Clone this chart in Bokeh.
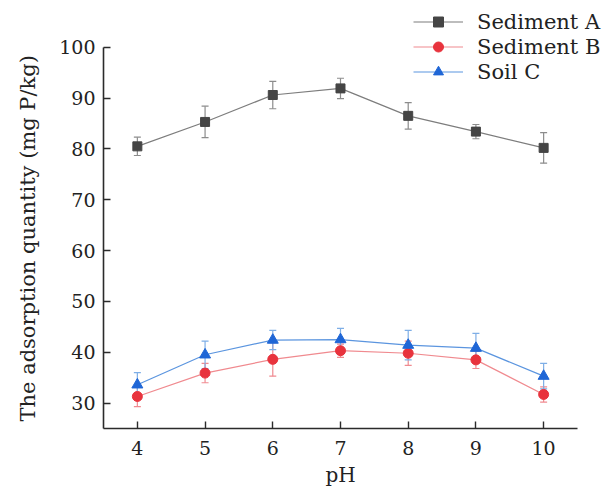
from bokeh.plotting import figure
from bokeh.models import (ColumnDataSource, Whisker, TeeHead, FixedTicker, Range1d,
                          Legend, LegendItem, Title)
from bokeh.embed import file_html
from bokeh.resources import INLINE

# ---- data ----
ph = [4, 5, 6, 7, 8, 9, 10]
sed_a = [80.5, 85.3, 90.6, 91.9, 86.5, 83.4, 80.2]
sed_a_err = [1.8, 3.1, 2.7, 2.0, 2.6, 1.4, 3.0]
sed_b = [31.3, 35.9, 38.6, 40.3, 39.8, 38.5, 31.7]
sed_b_err = [2.0, 1.9, 3.3, 1.3, 2.4, 1.7, 1.5]
soil_c = [33.6, 39.5, 42.4, 42.5, 41.4, 40.8, 35.3]
soil_c_err = [2.4, 2.7, 1.9, 2.2, 2.9, 2.9, 2.5]
y_ticks = [30, 40, 50, 60, 70, 80, 90, 100]
x_ticks = [4, 5, 6, 7, 8, 9, 10]
series_names = ["Sediment A", "Sediment B", "Soil C"]
x_title = "pH"
y_title = "The adsorption quantity (mg P/kg)"

FONT = "DejaVu Serif"
TXT = "#222222"

p = figure(width=608, height=492, output_backend="svg", toolbar_location=None,
           x_range=Range1d(3.5, 10.958), y_range=Range1d(25, 109.19),
           min_border_left=103, min_border_right=0, min_border_top=0,
           min_border_bottom=64)
p.outline_line_color = None
p.xgrid.visible = False
p.ygrid.visible = False
p.background_fill_color = "white"

for ax in (p.xaxis[0], p.yaxis[0]):
    ax.axis_line_color = "#2b2b2b"
    ax.axis_line_width = 1.6
    ax.major_tick_line_color = "#2b2b2b"
    ax.major_tick_line_width = 1.4
    ax.major_tick_in = 7
    ax.major_tick_out = 0
    ax.minor_tick_line_color = None
    ax.major_label_text_font = FONT
    ax.major_label_text_font_size = "19px"
    ax.major_label_text_color = TXT

p.xaxis.ticker = FixedTicker(ticks=x_ticks)
p.yaxis.ticker = FixedTicker(ticks=y_ticks)
p.yaxis.bounds = (25, 100)
p.xaxis.bounds = (3.5, 10.5)
p.xaxis.major_label_standoff = 12
p.yaxis.major_label_standoff = 8

xt = Title(text=x_title, align="left", offset=222, standoff=7,
           text_font=FONT, text_font_size="20px", text_font_style="normal",
           text_color=TXT)
p.add_layout(xt, "below")

yt = Title(text=y_title, align="left", offset=7, standoff=30, vertical_align="top",
           text_font=FONT, text_font_size="21px", text_font_style="normal",
           text_color=TXT)
p.add_layout(yt, "left")

specs = [
    (sed_a, sed_a_err, "#454545", "#7d7d7d", "#8c8c8c", "square", 9),
    (sed_b, sed_b_err, "#e8333d", "#f08a8f", "#f08a90", "circle", 10),
    (soil_c, soil_c_err, "#1f66d6", "#5b95df", "#7eaee6", "triangle", 11),
]

items = []
for name, (vals, errs, mcol, lcol, ecol, marker, size) in zip(series_names, specs):
    src = ColumnDataSource(dict(x=ph, y=vals,
                                upper=[v + e for v, e in zip(vals, errs)],
                                lower=[v - e for v, e in zip(vals, errs)]))
    w = Whisker(source=src, base="x", upper="upper", lower="lower", dimension="height",
                line_color=ecol, line_width=1.2,
                upper_head=TeeHead(size=7, line_color=ecol, line_width=1.2),
                lower_head=TeeHead(size=7, line_color=ecol, line_width=1.2))
    p.add_layout(w)
    lr = p.line("x", "y", source=src, line_color=lcol, line_width=1.2)
    sr = p.scatter("x", "y", source=src, marker=marker, size=size,
                   fill_color=mcol, line_color=mcol)
    items.append(LegendItem(label=name, renderers=[lr, sr]))

legend = Legend(items=items, location=(310, 344), orientation="vertical",
                glyph_width=50, glyph_height=25, label_height=25, spacing=0,
                padding=0, margin=0, label_standoff=14,
                label_text_font=FONT, label_text_font_size="21px",
                label_text_color=TXT, background_fill_alpha=0,
                border_line_color=None)
p.add_layout(legend, "center")

open("out.html", "w").write(file_html(p, INLINE))
